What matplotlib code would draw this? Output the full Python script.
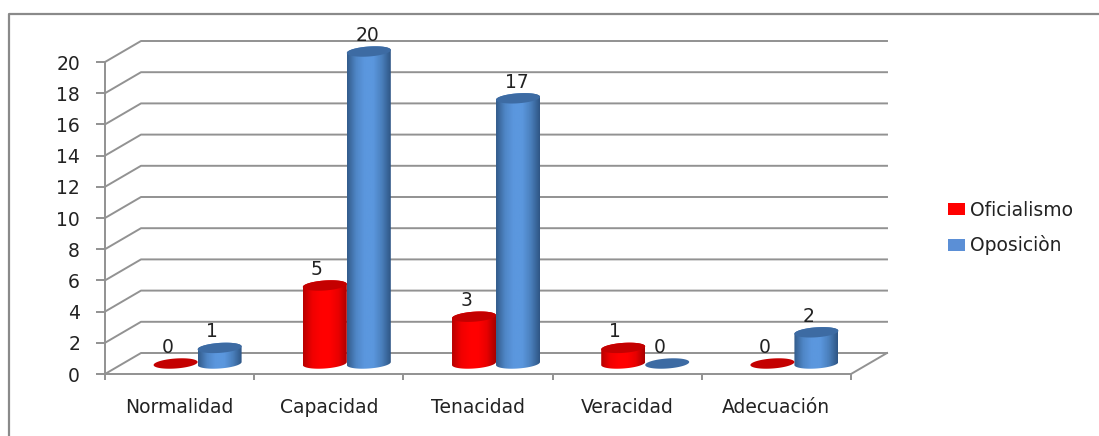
import numpy as np
import matplotlib
matplotlib.use('Agg')
import matplotlib.pyplot as plt
from matplotlib.lines import Line2D
from matplotlib.patches import Patch, Polygon
from matplotlib.colors import LinearSegmentedColormap

categories = ['Normalidad', 'Capacidad', 'Tenacidad', 'Veracidad', 'Adecuación']
oficialismo = [0, 5, 3, 1, 0]
oposicion = [1, 20, 17, 0, 2]
y_ticks = list(range(0, 21, 2))

W, H = 1099, 436
fig = plt.figure(figsize=(W / 100, H / 100), dpi=100)
# chart border, only the left and top sides are inside the picture
fig.add_artist(Line2D([9 / W, 9 / W, 1], [0, 1 - 14 / H, 1 - 14 / H], c='#8a8a8a', lw=1.6))

# front plane of the fake 3d box
ax = fig.add_axes([105 / W, 1 - 374 / H, 746 / W, 312 / H])
ax.patch.set_alpha(0)
ax.set_xlim(0, 5)
ax.set_ylim(0, 20)

# depth of the box in data units (36 px right, 21 px up)
px_x = 5 / 746
px_y = 20 / 312
dx = 36 * px_x
dy = 21 * px_y
grid_c = '#929292'
text_c = '#222222'
font = 13.5

for v in y_ticks:
    ax.plot([0, dx, 5 + dx], [v, v + dy, v + dy], c=grid_c, lw=1.4, clip_on=False, zorder=1)
ax.plot([5, 5 + dx], [0, dy], c=grid_c, lw=1.4, clip_on=False, zorder=1)

red_cmap = LinearSegmentedColormap.from_list('r', ['#b80000', '#f00000', '#ff0000', '#ff0000', '#e80000', '#a80000'])
blue_cmap = LinearSegmentedColormap.from_list('b', ['#335c8c', '#4f86c6', '#5b97de', '#5b97de', '#4a7fbc', '#2f5685'])
grad = np.linspace(0, 1, 64).reshape(1, -1)

bar_w = 44 * px_x
minor = 5 * px_y
tilt = 1.5 * px_y
t = np.linspace(0, 2 * np.pi, 80)


def cylinder(cx, val, cmap, top_c):
    base = dy / 2
    a = bar_w / 2
    ex = cx + a * np.cos(t)
    ey = minor * np.sin(t) + tilt * np.cos(t)
    if val > 0:
        lower = t >= np.pi
        body_x = np.r_[ex[lower], ex[~lower]]
        body_y = np.r_[ey[lower] + base, ey[~lower] + base + val]
        body = Polygon(np.c_[body_x, body_y], transform=ax.transData, fc='none', ec='none', clip_on=False)
        ax.add_patch(body)
        im = ax.imshow(grad, cmap=cmap, aspect='auto', zorder=3,
                       extent=[cx - a, cx + a, base - minor * 2, base + val + minor * 2])
        im.set_clip_box(fig.bbox)
        im.set_clip_path(body)
    ax.fill(ex, ey + base + val, fc=top_c, ec='none', zorder=4, clip_on=False)
    # the labels of the short bars sit left of the bar
    shift = -8 * px_x if val < 10 else -1 * px_x
    ax.text(cx + shift, base + val + 0.42, str(val), ha='center', va='bottom', fontsize=font,
            color=text_c, zorder=5, clip_on=False)


for i in range(len(categories)):
    center = i + 0.5 + dx / 2
    cylinder(center - bar_w / 2, oficialismo[i], red_cmap, '#c40000')
    cylinder(center + bar_w / 2, oposicion[i], blue_cmap, '#3d6ba3')

ax.set_xlim(0, 5)
ax.set_ylim(0, 20)
ax.set_yticks(y_ticks)
ax.set_xticks(np.arange(6))
ax.set_xticklabels([])
ax.set_xticks(np.arange(5) + 0.5, categories, minor=True)
ax.tick_params(axis='x', which='major', length=4.5, width=1.4, color=grid_c, direction='out')
ax.tick_params(axis='x', which='minor', length=0, pad=17, labelsize=font, labelcolor=text_c)
ax.tick_params(axis='y', length=6.5, width=1.4, color=grid_c, pad=11.5, labelsize=font, labelcolor=text_c)
for s in ['top', 'right']:
    ax.spines[s].set_visible(False)
for s in ['left', 'bottom']:
    ax.spines[s].set_color(grid_c)
    ax.spines[s].set_linewidth(1.4)

handles = [Patch(fc='#ff0000', label='Oficialismo'), Patch(fc='#5b8fd6', label='Oposiciòn')]
fig.legend(handles=handles, loc='center left', bbox_to_anchor=(931 / W, 1 - 228 / H), frameon=False,
           fontsize=font, handlelength=0.9, handleheight=0.6, handletextpad=0.3, labelspacing=0.85,
           labelcolor=text_c)

fig.savefig('out.png', dpi=100)
